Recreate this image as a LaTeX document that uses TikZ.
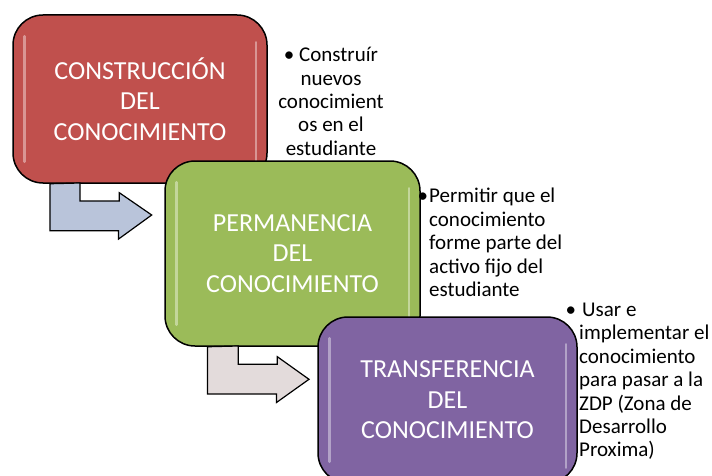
\documentclass[tikz,border=0pt]{standalone}
\usepackage{fontspec}
\setmainfont{Carlito}
\usetikzlibrary{calc}

\definecolor{redbox}{HTML}{C0504D}
\definecolor{greenbox}{HTML}{9BBB59}
\definecolor{purplebox}{HTML}{8064A2}
\definecolor{arrowblue}{HTML}{B9C4DA}
\definecolor{arrowrose}{HTML}{E3DBDB}

\begin{document}
\begin{tikzpicture}[x=1pt, y=-1pt,
                box/.style = {draw, line width=1.5pt, rounded corners=30pt, text=white, align=center, inner sep=0pt, font=\fontsize{26}{30.5}\selectfont},
                note/.style = {inner sep=0pt, font=\fontsize{21}{23.4}\selectfont},
                gloss/.style = {draw=white, opacity=0.4, line width=2.5pt, line cap=round},
                blockarr/.style = {draw, line width=1.2pt, line join=miter},
            ]
            \useasboundingbox (0,0) rectangle (712,476);

            \node (red) [box, fill=redbox, minimum width=254pt, minimum height=168pt] at (140,99) {CONSTRUCCIÓN\\DEL\\CONOCIMIENTO};
            \path[gloss] ($(red.north west)+(12,22)$) -- ($(red.south west)+(12,-22)$);
            \path[gloss] ($(red.north east)+(-12,28)$) -- ($(red.south east)+(-12,-16)$);

            \node (consnote) [note, align=center] at (331,101.5) {• Construír\\nuevos\\conocimient\\os en el\\estudiante};

            \coordinate (a1) at ($(red.south west)+(37.7,0)$);
            \coordinate (t1) at (151.7,215);
            \path[blockarr, fill=arrowblue] (a1) -- ++(0,47) -- ++(68.6,0) -- ++(0,8.3) -- (t1) -- ++(-32.4,-22.3) -- ++(0,8.3) -- ++(-39.3,0) -- ++(0,-18) -- cycle;

            \node (green) [box, fill=greenbox, minimum width=255pt, minimum height=185pt] at (292.5,253.5) {PERMANENCIA\\DEL\\CONOCIMIENTO};
            \path[gloss] ($(green.north west)+(12,22)$) -- ($(green.south west)+(12,-22)$);
            \path[gloss] ($(green.north east)+(-12,28)$) -- ($(green.south east)+(-12,-16)$);

            \node (permnote) [note, align=left, anchor=west] at (429,242.5) {\llap{•\hspace{1pt}}Permitir que el\\conocimiento\\forme parte del\\activo fijo del\\estudiante};

            \coordinate (a2) at ($(green.south west)+(43.3,0)$);
            \coordinate (t2) at (309,379.3);
            \path[blockarr, fill=arrowrose] (a2) -- ++(0,47.3) -- ++(69,0) -- ++(0,8.4) -- (t2) -- ++(-31.7,-22.6) -- ++(0,7.6) -- ++(-39,0) -- ++(0,-18.3) -- cycle;

            \node (purple) [box, fill=purplebox, minimum width=259pt, minimum height=166pt] at (447.5,400) {TRANSFERENCIA\\DEL\\CONOCIMIENTO};
            \path[gloss] ($(purple.north west)+(12,22)$) -- ($(purple.south west)+(12,-22)$);
            \path[gloss] ($(purple.north east)+(-12,28)$) -- ($(purple.south east)+(-12,-16)$);

            \node (transnote) [note, align=left, anchor=west] at (579,381.5) {\llap{•\hspace{3pt}}\hspace{3pt}Usar e\\implementar el\\conocimiento\\para pasar a la\\ZDP (Zona de\\Desarrollo\\Proxima)};
        \end{tikzpicture}
\end{document}
